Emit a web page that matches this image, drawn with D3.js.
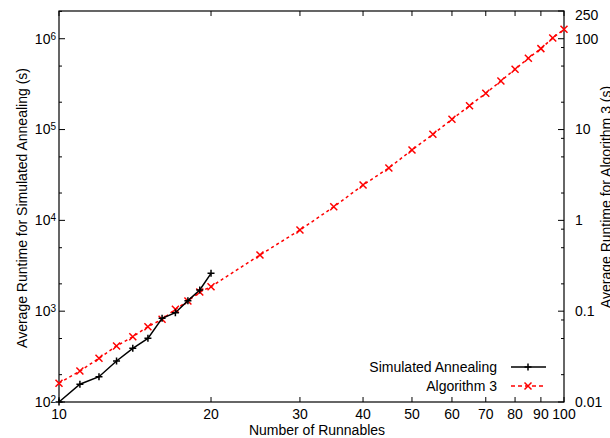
<!DOCTYPE html>
<html>
<head>
<meta charset="utf-8">
<script src="https://d3js.org/d3.v7.min.js"></script>
<style>
  body { margin: 0; background: #fff; }
  svg { display: block; }
  text { font-family: "Liberation Sans", Arial, sans-serif; font-size: 14px; fill: #000; }
</style>
</head>
<body>
<svg width="610" height="438"></svg>
<script>
// data
const saRunnables = [10, 11, 12, 13, 14, 15, 16, 17, 18, 19, 20];
const saRuntime = [100, 157, 190, 283, 390, 502, 835, 963, 1306, 1710, 2611];

const algRunnables = [10, 11, 12, 13, 14, 15, 16, 17, 18, 19, 20,
    25, 30, 35, 40, 45, 50, 55, 60, 65, 70, 75, 80, 85, 90, 95, 100];
const algRuntime = [0.0161, 0.0219, 0.0303, 0.0414, 0.0524, 0.0675, 0.0814, 0.105, 0.1294, 0.1625, 0.1862,
    0.416, 0.783, 1.41, 2.45, 3.78, 5.96, 8.87, 12.98, 18.3, 25.1, 34.3, 46.1, 61.0, 77.8, 102, 127];

const xTicks = [10, 20, 30, 40, 50, 60, 70, 80, 90, 100];
const yExponents = [2, 3, 4, 5, 6];
const y2Ticks = [0.01, 0.1, 1, 10, 100, 250];

const svg = d3.select('svg');
const plotL = 59, plotR = 564, plotT = 11, plotB = 402;

const x = d3.scaleLog().domain([10, 100]).range([plotL, plotR]);
const y = d3.scaleLog().domain([100, 2.02e6]).range([plotB, plotT]);
const y2 = d3.scaleLog().domain([0.01, 202]).range([plotB, plotT]).clamp(true);

// frame
svg.append('rect')
    .attr('x', plotL).attr('y', plotT)
    .attr('width', plotR - plotL).attr('height', plotB - plotT)
    .attr('fill', 'none').attr('stroke', '#000').attr('stroke-width', 1.2);

const ticks = svg.append('g').attr('stroke', '#000').attr('stroke-width', 1);

// x ticks, bottom and mirrored top
xTicks.forEach(v => {
    ticks.append('line').attr('x1', x(v)).attr('x2', x(v)).attr('y1', plotB).attr('y2', plotB - 5);
    ticks.append('line').attr('x1', x(v)).attr('x2', x(v)).attr('y1', plotT).attr('y2', plotT + 5);
    svg.append('text')
        .attr('x', x(v)).attr('y', plotB + 17)
        .attr('text-anchor', 'middle')
        .text(v);
});

// left axis: major + minor ticks
yExponents.forEach(e => {
    const v = Math.pow(10, e);
    ticks.append('line').attr('x1', plotL).attr('x2', plotL + 6).attr('y1', y(v)).attr('y2', y(v));
    [2, 5].forEach(m => {
        const mv = m * v;
        if (mv <= y.domain()[1]) {
            ticks.append('line').attr('x1', plotL).attr('x2', plotL + 3).attr('y1', y(mv)).attr('y2', y(mv));
        }
    });
    const t = svg.append('text')
        .attr('x', 56).attr('y', y(v)).attr('dy', '0.35em')
        .attr('text-anchor', 'end');
    t.append('tspan').text('10');
    t.append('tspan').attr('dy', -4).style('font-size', '10px').text(e);
});

// right axis
y2Ticks.forEach(v => {
    ticks.append('line').attr('x1', plotR).attr('x2', plotR - 6).attr('y1', y2(v)).attr('y2', y2(v));
    svg.append('text')
        .attr('x', 575).attr('y', y2(v) + (v > y2.domain()[1] ? 4 : 0)).attr('dy', '0.35em')
        .text(v);
});
[0.01, 0.1, 1, 10].forEach(v => {
    [2, 5, 8].forEach(m => {
        ticks.append('line').attr('x1', plotR).attr('x2', plotR - 3)
            .attr('y1', y2(m * v)).attr('y2', y2(m * v));
    });
});

// axis titles
svg.append('text')
    .attr('transform', 'translate(317,435)')
    .attr('text-anchor', 'middle')
    .text('Number of Runnables');
svg.append('text')
    .attr('transform', 'translate(27,208) rotate(-90)')
    .attr('text-anchor', 'middle')
    .text('Average Runtime for Simulated Annealing (s)');
svg.append('text')
    .attr('transform', 'translate(611,197) rotate(-90)')
    .attr('text-anchor', 'middle')
    .text('Average Runtime for Algorithm 3 (s)');

function plus(g, cx, cy, r) {
    g.append('path').attr('d', `M${cx - r},${cy}H${cx + r}M${cx},${cy - r}V${cy + r}`);
}
function cross(g, cx, cy, r) {
    g.append('path').attr('d', `M${cx - r},${cy - r}L${cx + r},${cy + r}M${cx - r},${cy + r}L${cx + r},${cy - r}`);
}

const saData = saRunnables.map((d, i) => [d, saRuntime[i]]);
const algData = algRunnables.map((d, i) => [d, algRuntime[i]]);

// algorithm 3 (right axis)
svg.append('path')
    .datum(algData)
    .attr('fill', 'none').attr('stroke', '#ff0000').attr('stroke-width', 1.5)
    .attr('stroke-dasharray', '3,3')
    .attr('d', d3.line().x(d => x(d[0])).y(d => y2(d[1])));
const algMarks = svg.append('g').attr('stroke', '#ff0000').attr('stroke-width', 1.5).attr('fill', 'none');
algData.forEach(d => cross(algMarks, x(d[0]), y2(d[1]), 3.5));

// simulated annealing (left axis)
svg.append('path')
    .datum(saData)
    .attr('fill', 'none').attr('stroke', '#000').attr('stroke-width', 1.5)
    .attr('d', d3.line().x(d => x(d[0])).y(d => y(d[1])));
const saMarks = svg.append('g').attr('stroke', '#000').attr('stroke-width', 1.5);
saData.forEach(d => plus(saMarks, x(d[0]), y(d[1]), 3.5));

// legend
const legend = svg.append('g');
const rows = [
    { label: 'Simulated Annealing', color: '#000', dash: null, mark: plus, cy: 367 },
    { label: 'Algorithm 3', color: '#ff0000', dash: '4,3', mark: cross, cy: 386 }
];
rows.forEach(r => {
    legend.append('text')
        .attr('x', 497).attr('y', r.cy).attr('dy', '0.35em')
        .attr('text-anchor', 'end')
        .text(r.label);
    legend.append('line')
        .attr('x1', 511).attr('x2', 546).attr('y1', r.cy).attr('y2', r.cy)
        .attr('stroke', r.color).attr('stroke-width', 1.5)
        .attr('stroke-dasharray', r.dash);
    const g = legend.append('g').attr('stroke', r.color).attr('stroke-width', 1.5);
    r.mark(g, 528, r.cy, 3.5);
});
</script>
</body>
</html>
